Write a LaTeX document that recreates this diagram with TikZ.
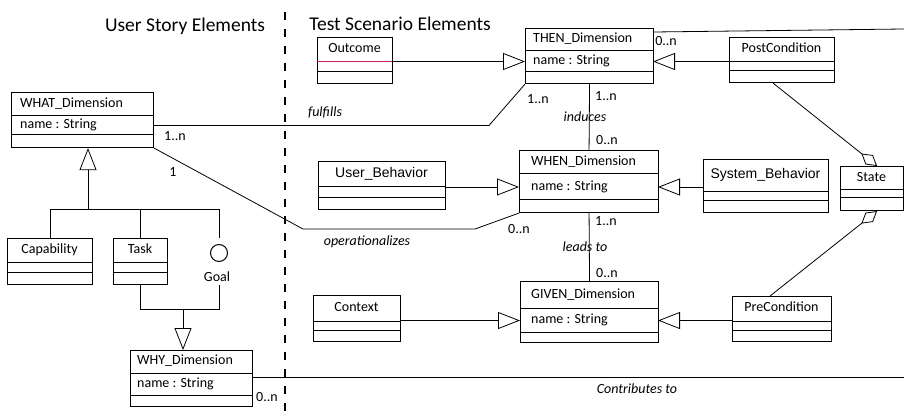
\documentclass[tikz,border=0pt]{standalone}
\usepackage{fontspec}
\setmainfont{Carlito}
\newfontfamily\arialf{Liberation Sans}
\usetikzlibrary{arrows.meta,calc}

\tikzset{
  boxshape/.style={draw, line width=1.1pt, inner sep=0pt, rectangle},
  boxline/.style={line width=1pt},
  conn/.style={line width=0.8pt},
  gen/.style={conn, -{Triangle[open,length=22pt,width=17pt,line width=0.8pt]}},
  agg/.style={conn, -{Diamond[open,length=20pt,width=12pt,line width=0.8pt]}},
  lbl/.style={inner sep=0pt},
  ilbl/.style={inner sep=0pt, font=\fontsize{14}{16}\selectfont\itshape},
  ttl/.style={inner sep=0pt, font=\fontsize{19.5}{22}\selectfont},
  divider/.style={line width=2.7pt, dash pattern=on 8pt off 9pt},
}

% dimension class: name, x1, y1, x2, y2, sep1, sep2, title, text offset
\newcommand{\dimbox}[9]{%
  \node[boxshape, anchor=north west, minimum width={(#4-#2)*1pt}, minimum height={(#5-#3)*1pt}] (#1) at (#2,#3) {};
  \draw[boxline] (#2,#6) -- (#4,#6);
  \draw[boxline] (#2,#7) -- (#4,#7);
  \coordinate (#1-l) at (#2,{(#6+#7)/2});
  \coordinate (#1-r) at (#4,{(#6+#7)/2});
  \node[lbl, anchor=mid west] (#1-t) at ({#2+#9},{(#3+#6)/2+1}) {#8};
  \node[lbl, anchor=mid west] (#1-a) at ({#2+#9},{(#6+#7)/2+1}) {name : String};
}
% plain class: name, x1, y1, x2, y2, sep1, sep2, title, first separator colour
\newcommand{\plainbox}[9]{%
  \node[boxshape, anchor=north west, minimum width={(#4-#2)*1pt}, minimum height={(#5-#3)*1pt}] (#1) at (#2,#3) {};
  \draw[boxline, draw=#9] (#2,#6) -- (#4,#6);
  \draw[boxline] (#2,#7) -- (#4,#7);
  \node[lbl, anchor=mid] (#1-t) at ({(#2+#4)/2},{(#3+#6)/2+1}) {#8};
}

\definecolor{pinkline}{RGB}{200,30,90}

\begin{document}
\begin{tikzpicture}[x=1pt, y=-1pt, font=\fontsize{14}{16}\selectfont]
\useasboundingbox (0,0) rectangle (904,411);

% titles and divider
\node[ttl] (t-us) at (185,26) {User Story Elements};
\node[ttl] (t-ts) at (400,24) {Test Scenario Elements};
\coordinate (d-top) at (285,12);
\coordinate (d-bot) at (285,411);
\draw[divider] (d-top) -- (d-bot);

% dimension classes
\dimbox{what}{11}{92}{153}{147}{116}{135}{WHAT\_Dimension}{9}
\dimbox{then}{525}{28}{653}{83}{51}{72}{THEN\_Dimension}{8}
\dimbox{when}{519}{150}{658}{212}{174}{200}{WHEN\_Dimension}{12}
\dimbox{given}{520}{281}{658}{342}{309}{332}{GIVEN\_Dimension}{11}
\dimbox{why}{130}{350}{252}{406}{373}{395}{WHY\_Dimension}{7}

% plain classes
\plainbox{outcome}{317}{37}{392}{83}{62}{72}{Outcome}{pinkline}
\plainbox{userb}{318}{161}{445}{209}{187}{198}{\arialf User\_Behavior}{black}
\plainbox{context}{313}{295}{400}{341}{321}{330}{Context}{black}
\plainbox{post}{729}{37}{834}{82}{62}{71}{PostCondition}{black}
\plainbox{sysb}{703}{159}{828}{212}{192}{201}{\arialf System\_Behavior}{black}
\plainbox{pre}{732}{296}{831}{341}{321}{330}{PreCondition}{black}
\plainbox{state}{840}{166}{903}{210}{190}{198}{State}{black}
\plainbox{cap}{7}{238}{92}{284}{263}{273}{Capability}{black}
\plainbox{task}{113}{238}{167}{284}{263}{273}{Task}{black}

% goal
\node[circle, draw, line width=1pt, minimum size=17pt, inner sep=0pt] (goal) at (219,253) {};
\node[lbl] (goal-t) at (217,277) {Goal};

% generalisations into dimensions
\draw[gen] (outcome.east |- then-l) -- (then-l);
\draw[gen] (post.west |- then-r) -- (then-r);
\draw[gen] (userb.east |- when-l) -- (when-l);
\draw[gen] (sysb.west |- when-r) -- (when-r);
\draw[gen] (context.east |- given-l) -- (given-l);
\draw[gen] (pre.west |- given-r) -- (given-r);

% left hierarchy
\coordinate (j1) at (88,209);
\coordinate (j2) at (183,309);
\draw[gen] (j1) -- (what.south -| j1);
\draw[conn] (cap.north) -- (cap.north |- j1) -- (goal.north |- j1) -- (goal.north |- cap.north);
\draw[conn] (task.north |- j1) -- (task.north);
\draw[conn] (task.south) -- (task.south |- j2) -- (goal.north |- j2) -- (goal.north |- cap.south);
\draw[gen] (j2) -- (why.north -| j2);

% associations between dimensions
\draw[conn] (then.south) -- (when.north);
\draw[conn] (when.south) -- (given.north);
\coordinate (fb) at (489,125.5);
\draw[conn] (what-r) -- (fb) -- (then.south west);
\coordinate (ob1) at (303,229);
\coordinate (ob2) at (475,229);
\draw[conn] (what.south east) -- (ob1) -- (ob2) -- (when.south west);
\coordinate (re1) at (904,29);
\draw[conn] ($(then.north east)+(0,4)$) -- (re1);
\coordinate (re2) at (904,377);
\draw[conn] (why.east |- re2) -- (re2);

% aggregations to State
\draw[agg] ($(post.south)+(-9,0)$) -- ($(state.north)+(5,0)$);
\draw[agg] ($(pre.north)+(-12,0)$) -- ($(state.south)+(5,0)$);

% labels
\node[ilbl] (l-ful) at (325,112) {fulfills};
\node[lbl] (m1) at (175,136) {1..n};
\node[lbl] (m2) at (538,99) {1..n};
\node[lbl] (m3) at (606,96) {1..n};
\node[ilbl] (l-ind) at (585,117) {induces};
\node[lbl] (m4) at (607,140) {0..n};
\node[lbl] (m5) at (606,221) {1..n};
\node[ilbl] (l-lead) at (585,247) {leads to};
\node[lbl] (m6) at (607,273) {0..n};
\node[lbl] (m7) at (173,172) {1};
\node[ilbl] (l-op) at (367,242) {operationalizes};
\node[lbl] (m8) at (519,229) {0..n};
\node[lbl] (m9) at (666,41) {0..n};
\node[lbl] (m10) at (267,397) {0..n};
\node[ilbl] (l-con) at (637,389) {Contributes to};
\end{tikzpicture}
\end{document}
